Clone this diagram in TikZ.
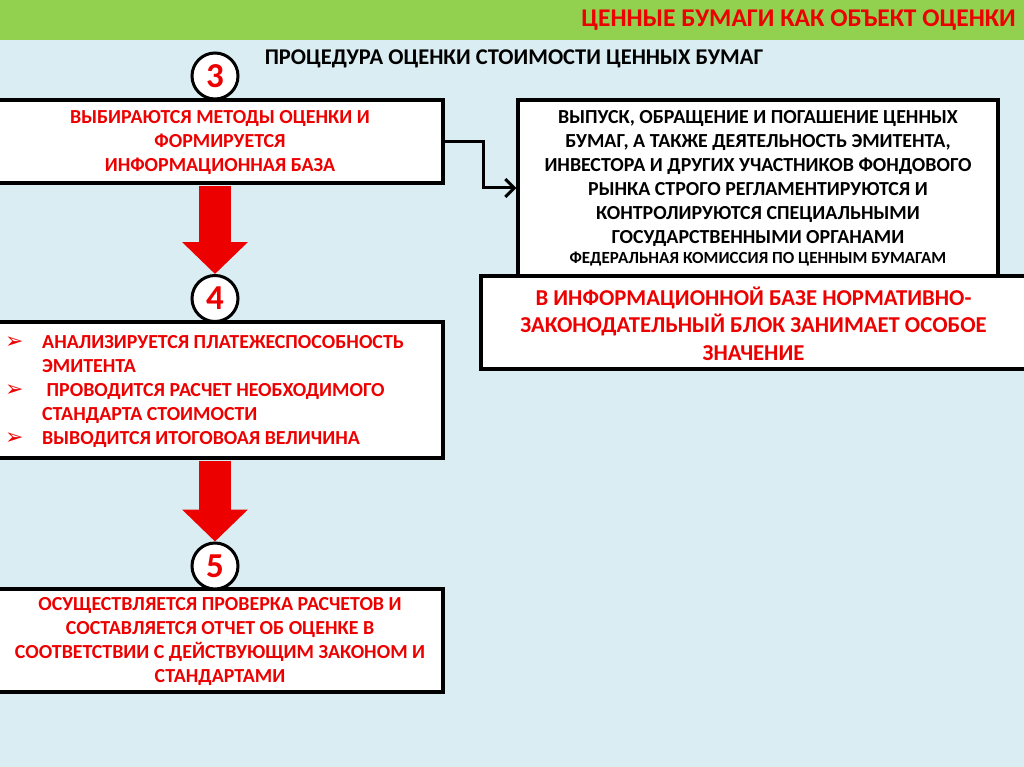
\documentclass[tikz,border=0pt]{standalone}
\usepackage{fontspec}
\setmainfont{Carlito}
\newfontfamily\dejavu{DejaVu Sans}
\usetikzlibrary{arrows.meta,calc}
\definecolor{hdrgreen}{RGB}{146,208,80}
\definecolor{bodyblue}{RGB}{218,237,242}
\definecolor{txtred}{RGB}{236,0,0}
\tikzset{
  box/.style={draw=black, line width=3.2pt, fill=white, inner sep=0pt},
  numcirc/.style={circle, draw=black, line width=3pt, fill=white, minimum size=46pt, inner sep=0pt,
    text=txtred, font=\bfseries\fontsize{35}{35}\selectfont},
  redtxt/.style={text=txtred, font=\bfseries\fontsize{19.9}{24}\selectfont, align=center},
  blacktxt/.style={text=black, font=\bfseries\fontsize{19.9}{24}\selectfont, align=center},
  bigarrow/.style={draw=txtred, line width=32pt, line cap=butt, -{Triangle[length=32pt, width=64pt]}},
  link/.style={draw=black, line width=3pt, -{Straight Barb[length=9pt, width=18pt, line width=3pt]}},
}
\newcommand{\bul}{{\dejavu\fontsize{22}{24}\selectfont ➢}}
\begin{document}
\begin{tikzpicture}[x=1pt,y=-1pt]
\useasboundingbox (0,0) rectangle (1024,767);
\fill[bodyblue] (0,0) rectangle (1024,767);
\fill[hdrgreen] (0,0) rectangle (1024,40);
\node[anchor=east, text=txtred, font=\bfseries\fontsize{25.5}{25.5}\selectfont, inner sep=0pt] (title) at (1016,20) {ЦЕННЫЕ БУМАГИ КАК ОБЪЕКТ ОЦЕНКИ};
\node[font=\bfseries\fontsize{22.5}{22.5}\selectfont, inner sep=0pt] (sub) at (514,59) {ПРОЦЕДУРА ОЦЕНКИ СТОИМОСТИ ЦЕННЫХ БУМАГ};

% left boxes
\node[box, minimum width=446pt, minimum height=83pt] (b1) at (220,141.5) {};
\node[redtxt] at ($(b1.center)+(0,1)$) {ВЫБИРАЮТСЯ МЕТОДЫ ОЦЕНКИ И\\ФОРМИРУЕТСЯ\\ИНФОРМАЦИОННАЯ БАЗА};

\node[box, minimum width=446pt, minimum height=136pt] (b2) at (220,390) {};
\node[anchor=west, text=txtred, font=\bfseries\fontsize{19.9}{24}\selectfont, align=left, inner sep=0pt] at (5,392) {%
\begin{tabular}{@{}p{37pt}@{}l@{}}
\bul & АНАЛИЗИРУЕТСЯ ПЛАТЕЖЕСПОСОБНОСТЬ\\
 & ЭМИТЕНТА\\
\bul & \ ПРОВОДИТСЯ РАСЧЕТ НЕОБХОДИМОГО\\
 & СТАНДАРТА СТОИМОСТИ\\
\bul & ВЫВОДИТСЯ ИТОГОВОАЯ ВЕЛИЧИНА
\end{tabular}};

\node[box, minimum width=446pt, minimum height=103pt] (b3) at (220,640.5) {};
\node[redtxt] at ($(b3.center)+(0,1)$) {ОСУЩЕСТВЛЯЕТСЯ ПРОВЕРКА РАСЧЕТОВ И\\СОСТАВЛЯЕТСЯ ОТЧЕТ ОБ ОЦЕНКЕ В\\СООТВЕТСТВИИ С ДЕЙСТВУЮЩИМ ЗАКОНОМ И\\СТАНДАРТАМИ};

% right boxes
\node[box, minimum width=480pt, minimum height=176pt] (bA) at (758,188) {};
\node[blacktxt] at ($(bA.center)+(0,0)$) {ВЫПУСК, ОБРАЩЕНИЕ И ПОГАШЕНИЕ ЦЕННЫХ\\БУМАГ, А ТАКЖЕ ДЕЯТЕЛЬНОСТЬ ЭМИТЕНТА,\\ИНВЕСТОРА И ДРУГИХ УЧАСТНИКОВ ФОНДОВОГО\\РЫНКА СТРОГО РЕГЛАМЕНТИРУЮТСЯ И\\КОНТРОЛИРУЮТСЯ СПЕЦИАЛЬНЫМИ\\ГОСУДАРСТВЕННЫМИ ОРГАНАМИ\\[-4pt]{\fontsize{17}{20}\selectfont ФЕДЕРАЛЬНАЯ КОМИССИЯ ПО ЦЕННЫМ БУМАГАМ}};

\node[box, minimum width=545pt, minimum height=93pt] (bB) at (753.5,322.5) {};
\node[text=txtred, font=\bfseries\fontsize{22.7}{27.5}\selectfont, align=center] at ($(bB.center)+(0,1)$) {В ИНФОРМАЦИОННОЙ БАЗЕ НОРМАТИВНО-\\ЗАКОНОДАТЕЛЬНЫЙ БЛОК ЗАНИМАЕТ ОСОБОЕ\\ЗНАЧЕНИЕ};

% number circles
\node[numcirc] (c3) at (215,76) {3};
\node[numcirc] (c4) at (215,298.5) {4};
\node[numcirc] (c5) at (215,566) {5};

% big red arrows
\draw[bigarrow] ($(b1.south)+(-5,1.6)$) -- (c4.north);
\draw[bigarrow] ($(b2.south)+(-5,1.6)$) -- (c5.north);

% connector
\draw[link] (b1.east) -- ++(39,0) |- (bA.west);
\end{tikzpicture}
\end{document}
